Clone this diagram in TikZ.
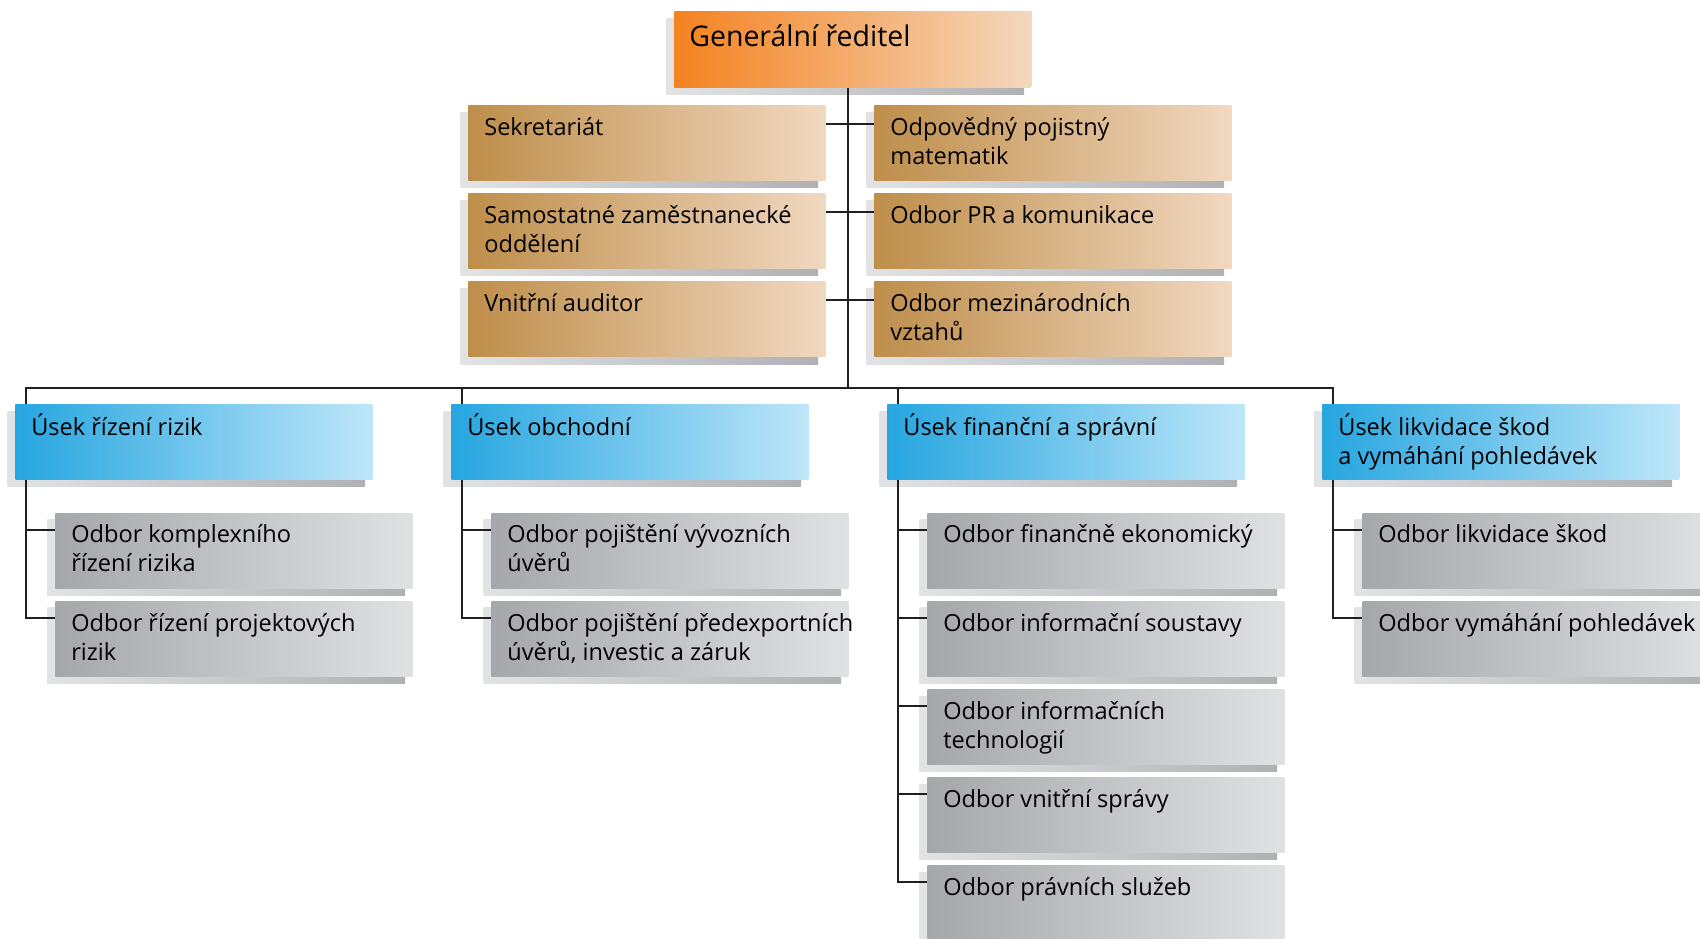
\documentclass[tikz,border=0pt]{standalone}
\usepackage{fontspec}
\setmainfont{Open Sans}
\usetikzlibrary{positioning,backgrounds}
\pgfdeclarelayer{links}
\pgfsetlayers{background,links,main}
\definecolor{ink}{RGB}{35,31,32}
\definecolor{orA}{RGB}{244,130,31}
\definecolor{orB}{RGB}{243,216,190}
\definecolor{brA}{RGB}{190,142,74}
\definecolor{brB}{RGB}{241,216,192}
\definecolor{blA}{RGB}{38,166,224}
\definecolor{blB}{RGB}{190,230,249}
\definecolor{grA}{RGB}{166,167,170}
\definecolor{grB}{RGB}{224,225,227}
\definecolor{shA}{RGB}{226,227,229}
\definecolor{shB}{RGB}{176,177,181}
\tikzset{
  unit/.style={anchor=north west,inner xsep=0.32cm,inner ysep=0.19cm,
    font=\fontsize{13.4pt}{16.5pt}\selectfont},
  boss/.style={unit,left color=orA,right color=orB,inner xsep=0.3cm,inner ysep=0.23cm,
    font=\fontsize{16.2pt}{19pt}\selectfont},
  staff/.style={unit,left color=brA,right color=brB},
  head/.style={unit,left color=blA,right color=blB},
  dept/.style={unit,left color=grA,right color=grB},
  drop/.style={left color=shA,right color=shB},
  link/.style={draw=ink,line width=0.04cm,line cap=rect},
}
\newcommand{\unittext}[1]{\parbox[t][1.12cm][t]{6.5cm}{\begin{tabular}[t]{@{}l@{}}#1\end{tabular}}}

\begin{document}
\begin{tikzpicture}[x=0.02cm,y=-0.02cm,node distance=0.25cm]
  \useasboundingbox (0,0) rectangle (1700,938);
  \node[boss] (gr) at (674,11) {\parbox[t][1.06cm][t]{6.54cm}{\strut Generální ředitel}};

  \node[staff] (s1) at (468,105) {\unittext{Sekretariát}};
  \node[staff,below=of s1] (s2) {\unittext{Samostatné zaměstnanecké\\oddělení}};
  \node[staff,below=of s2] (s3) {\unittext{Vnitřní auditor}};
  \node[staff] (o1) at (874,105) {\unittext{Odpovědný pojistný\\matematik}};
  \node[staff,below=of o1] (o2) {\unittext{Odbor PR a komunikace}};
  \node[staff,below=of o2] (o3) {\unittext{Odbor mezinárodních\\vztahů}};

  \node[head] (h1) at (15,404) {\unittext{Úsek řízení rizik}};
  \node[head] (h2) at (451,404) {\unittext{Úsek obchodní}};
  \node[head] (h3) at (887,404) {\unittext{Úsek finanční a správní}};
  \node[head] (h4) at (1322,404) {\unittext{Úsek likvidace škod\\a vymáhání pohledávek}};

  \node[dept] (d11) at ([xshift=0.8cm,yshift=-0.66cm]h1.south west) {\unittext{Odbor komplexního\\řízení rizika}};
  \node[dept,below=of d11] (d12) {\unittext{Odbor řízení projektových\\rizik}};

  \node[dept] (d21) at ([xshift=0.8cm,yshift=-0.66cm]h2.south west) {\unittext{Odbor pojištění vývozních\\úvěrů}};
  \node[dept,below=of d21] (d22) {\unittext{Odbor pojištění předexportních\\úvěrů, investic a záruk}};

  \node[dept] (d31) at ([xshift=0.8cm,yshift=-0.66cm]h3.south west) {\unittext{Odbor finančně ekonomický}};
  \node[dept,below=of d31] (d32) {\unittext{Odbor informační soustavy}};
  \node[dept,below=of d32] (d33) {\unittext{Odbor informačních\\technologií}};
  \node[dept,below=of d33] (d34) {\unittext{Odbor vnitřní správy}};
  \node[dept,below=of d34] (d35) {\unittext{Odbor právních služeb}};

  \node[dept] (d41) at ([xshift=0.8cm,yshift=-0.66cm]h4.south west) {\unittext{Odbor likvidace škod}};
  \node[dept,below=of d41] (d42) {\unittext{Odbor vymáhání pohledávek}};

  \begin{scope}[on background layer]
    \foreach \n in {gr,s1,s2,s3,o1,o2,o3,h1,h2,h3,h4,d11,d12,d21,d22,d31,d32,d33,d34,d35,d41,d42}
      \path[drop] ([xshift=-0.15cm,yshift=-0.14cm]\n.north west) rectangle ([xshift=-0.15cm,yshift=-0.14cm]\n.south east);
  \end{scope}

  \begin{pgfonlayer}{links}
    \foreach \h in {1,2,3,4}
      \coordinate (b\h) at ([xshift=0.22cm,yshift=0.32cm]h\h.north west);
    \draw[link] ([xshift=-0.09cm]gr.south) -- ([xshift=-0.09cm]gr.south |- b1);
    \draw[link] (b1) -- (b4);
    \foreach \s/\o in {s1/o1,s2/o2,s3/o3}
      \draw[link] ([yshift=-0.38cm]\s.north east) -- ([yshift=-0.38cm]\o.north west);
    \foreach \b/\d in {b1/d11,b1/d12,b2/d21,b2/d22,b3/d31,b3/d32,b3/d33,b3/d34,b3/d35,b4/d41,b4/d42}
      \draw[link] (\b) |- ([yshift=-0.34cm]\d.north west);
  \end{pgfonlayer}
\end{tikzpicture}
\end{document}
